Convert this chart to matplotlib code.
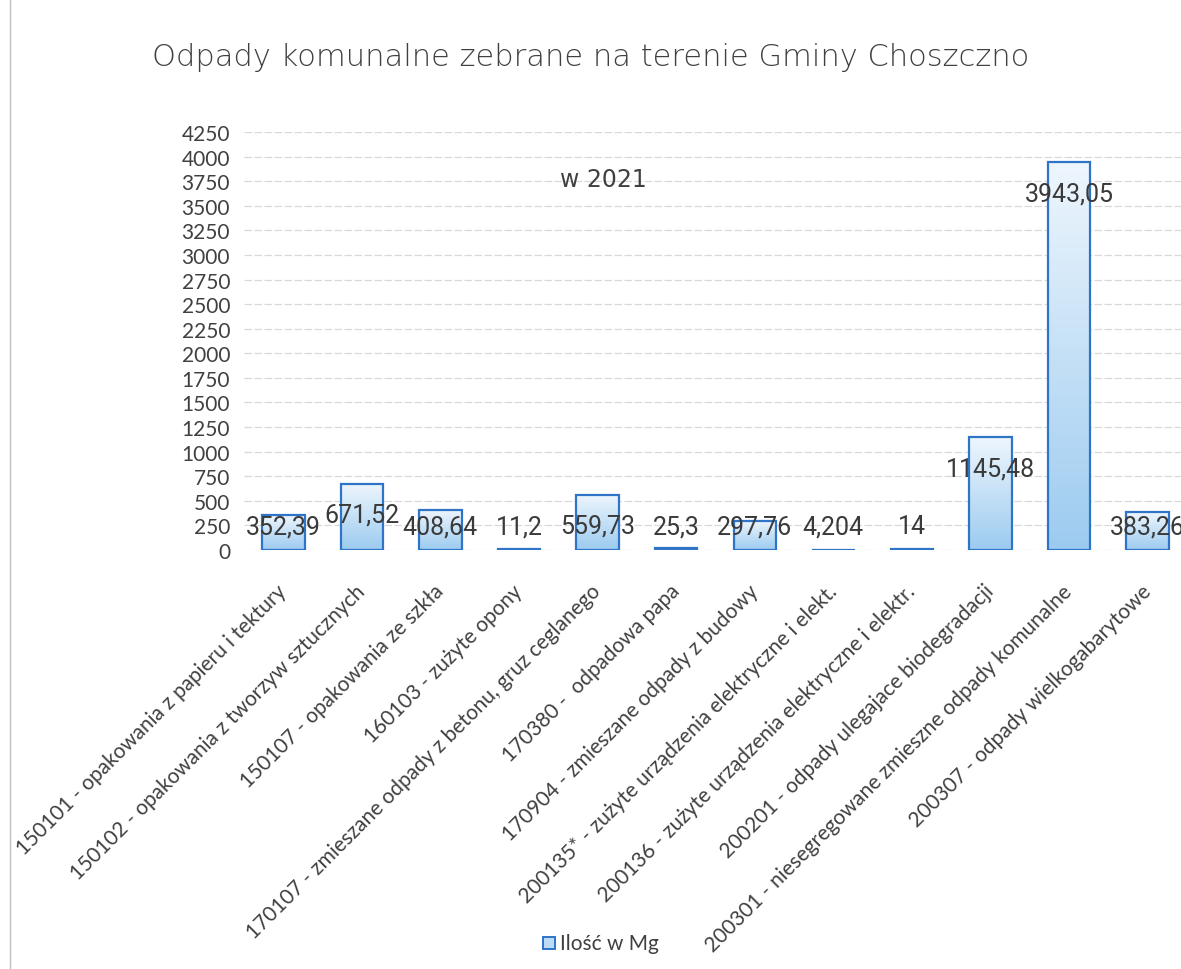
import numpy as np
import matplotlib.pyplot as plt
from matplotlib.lines import Line2D
from matplotlib.patches import Rectangle
from matplotlib.transforms import ScaledTranslation
from matplotlib.colors import LinearSegmentedColormap

categories = [
    "150101 - opakowania z papieru i tektury",
    "150102 - opakowania z tworzyw sztucznych",
    "150107 - opakowania ze szkła",
    "160103 - zużyte opony",
    "170107 - zmieszane odpady z betonu, gruz ceglanego",
    "170380 -  odpadowa papa",
    "170904 - zmieszane odpady z budowy",
    "200135* - zużyte urządzenia elektryczne i elekt.",
    "200136 - zużyte urządzenia elektryczne i elektr.",
    "200201 - odpady ulegajace biodegradacji",
    "200301 - niesegregowane zmieszne odpady komunalne",
    "200307 - odpady wielkogabarytowe",
]
values = [352.39, 671.52, 408.64, 11.2, 559.73, 25.3, 297.76, 4.204, 14, 1145.48, 3943.05, 383.26]
value_labels = ["352,39", "671,52", "408,64", "11,2", "559,73", "25,3", "297,76",
                "4,204", "14", "1145,48", "3943,05", "383,26"]
yticks = list(range(0, 4251, 250))

W, H = 1181, 970
fig = plt.figure(figsize=(W / 100, H / 100), dpi=100)
ax = fig.add_axes([244 / W, (H - 551) / H, 943 / W, 418 / H])

x = np.arange(len(values))
bars = ax.bar(x, values, width=0.54, facecolor="none", edgecolor="#2e75c8",
              linewidth=1.6, zorder=3)

# vertical gradient inside each bar
grad = np.linspace(0, 1, 256).reshape(-1, 1)
cmap = LinearSegmentedColormap.from_list("g", ["#9ccbf0", "#eef6fd"])
for b in bars:
    bx, by = b.get_x(), b.get_y()
    bw, bh = b.get_width(), b.get_height()
    im = ax.imshow(grad, cmap=cmap, aspect="auto", origin="lower",
                   extent=[bx, bx + bw, by, by + bh], zorder=2)
    im.set_clip_path(b)

ax.set_xlim(-0.5, len(values) - 0.5)
ax.set_ylim(0, 4250)
ax.set_yticks(yticks)
ax.set_yticklabels([str(t) for t in yticks], fontsize=15, color="#404040",
                   family="Lato")
ax.tick_params(axis="y", length=0, pad=10)
ax.grid(axis="y", color="#d9d9d9", linewidth=0.9, linestyle=(0, (6, 2)), zorder=0)
for s in ax.spines.values():
    s.set_visible(False)

# rotated category labels, right end just below each bar
ax.set_xticks(x)
ax.set_xticklabels([])
ax.tick_params(axis="x", length=0)
off = ScaledTranslation(-5 / 72, -22 / 72, fig.dpi_scale_trans)
for xi, cat in zip(x, categories):
    ax.text(xi, 0, cat, rotation=45, ha="right", va="top", rotation_mode="anchor",
            fontsize=15, color="#404040", family="Lato",
            transform=ax.get_xaxis_transform() + off)

# data labels: inside end, kept above baseline for short bars
for xi, v, lab in zip(x, values, value_labels):
    ax.text(xi, max(v - 315, 244), lab, ha="center", va="center",
            fontsize=18, color="#3a3a3a", family="Roboto", zorder=4)

fig.text(0.5, 1 - 57 / H, "Odpady komunalne zebrane na terenie Gminy Choszczno",
         ha="center", va="center", fontsize=22, color="#404040", family="DejaVu Sans",
         fontweight="light")
fig.text(603 / W, 1 - 180 / H, "w 2021", ha="center", va="center", fontsize=17,
         color="#404040", family="DejaVu Sans")

# legend
fig.patches.append(Rectangle((543 / W, 1 - 950 / H), 12 / W, 12 / H,
                             transform=fig.transFigure, facecolor="#bcdcf5",
                             edgecolor="#2e75c8", linewidth=1.4))
fig.text(560 / W, 1 - 944 / H, "Ilość w Mg", ha="left", va="center", fontsize=15,
         color="#404040", family="Lato")

# chart area border on the left
fig.lines.append(Line2D([10 / W, 10 / W], [0, 1], transform=fig.transFigure,
                        color="#c0c0c0", linewidth=1))

fig.savefig("out.png", dpi=100)
